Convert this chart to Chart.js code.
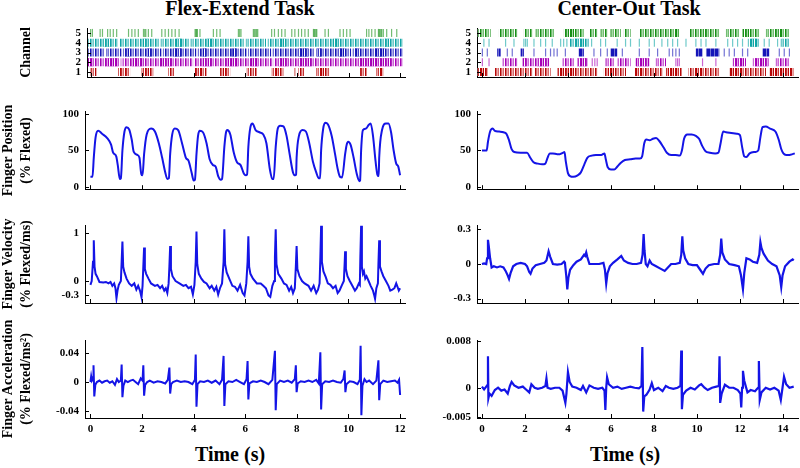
<!DOCTYPE html>
<html>
<head>
<meta charset="utf-8">
<script src="https://cdn.jsdelivr.net/npm/chart.js@4.4.0/dist/chart.umd.min.js"></script>
<style>
  body { margin: 0; background: #fff; width: 800px; height: 468px; position: relative; overflow: hidden; font-family: "Liberation Serif", "Times New Roman", serif; }
  canvas { position: absolute; }
  .lbl { position: absolute; font-weight: bold; font-size: 20px; line-height: 20px; white-space: nowrap; transform: translateX(-50%); color: #000; }
</style>
</head>
<body>
<div class="lbl" style="left:240px;top:-2px">Flex-Extend Task</div>
<div class="lbl" style="left:629px;top:-2px">Center-Out Task</div>
<div class="lbl" style="left:230px;top:444px">Time (s)</div>
<div class="lbl" style="left:625px;top:444px">Time (s)</div>
<script>
// ---- data: tick values ----
const flexTimeTicks = [0, 2, 4, 6, 8, 10, 12];
const coTimeTicks = [0, 2, 4, 6, 8, 10, 12, 14];
const channelTicks = [1, 2, 3, 4, 5];
const positionTicks = [0, 50, 100];
const flexVelocityTicks = [-0.3, 0, 1];
const coVelocityTicks = [-0.3, 0, 0.3];
const flexAccelTicks = [-0.04, 0, 0.04];
const coAccelTicks = [-0.005, 0, 0.008];

// ---- raster, Flex-Extend (times in s) ----
const flexCh5Spikes = [0.0,0.07,0.37,0.46,0.66,0.76,0.88,1.01,1.47,1.6,1.72,1.85,2.05,2.1,2.14,2.24,2.37,2.76,2.89,3.02,3.15,3.28,3.43,4.05,4.08,4.11,4.14,4.24,4.76,4.89,5.02,5.73,5.78,5.83,6.31,6.35,6.4,6.44,6.48,7.02,7.13,7.28,7.41,7.54,7.8,7.92,8.06,8.18,8.31,8.44,8.64,8.67,8.7,8.74,8.77,9.09,9.22,9.67,9.8,9.93,10.06,10.7,10.79,10.9,11.03,11.16,11.19,11.22,11.26,11.29,11.35,11.48,11.67,11.87];
const flexCh4Bursts = [[-0.1,1.05],[1.12,2.66],[2.72,3.83],[3.88,5.97],[6.02,6.8],[6.86,12.1]];
const flexCh4Dense = [[0.5,0.8],[2.0,2.25],[3.3,3.55],[4.5,4.75],[7.3,7.55],[9.4,9.65],[11.4,11.6]];
const flexCh3Bursts = [[-0.1,0.55],[0.6,1.2],[1.25,2.75],[2.8,4.1],[4.15,5.5],[5.55,6.05],[6.1,7.0],[7.05,8.7],[8.75,10.1],[10.15,12.1]];
const flexCh3Dense = [[1.34,1.53],[2.18,2.37],[3.21,3.53],[4.31,4.5],[5.47,5.66],[8.06,8.44],[8.77,8.96],[9.61,9.86],[10.25,10.44],[11.03,11.41]];
const flexCh2Bursts = [[-0.1,1.15],[1.2,3.95],[4.0,7.05],[7.1,12.1]];
const flexCh2Dense = [[-0.1,0.1],[0.56,1.08],[1.6,2.05],[2.69,3.15],[4.31,4.7],[5.21,5.73],[6.2,6.5],[7.28,7.67],[8.06,8.57],[10.38,11.67]];
const flexCh1Bursts = [[0,0.23],[1.07,1.53],[1.98,2.43],[3.01,3.27],[4.02,4.5],[5.02,5.41],[6.05,6.44],[7.02,7.47],[8.05,8.31],[8.74,9.28],[10.45,10.71],[11.09,11.35]];
const flexCh1Dense = [[1.3,1.45],[2.05,2.3],[4.1,4.35],[5.1,5.3],[7.1,7.35],[8.85,9.1],[11.15,11.3]];
const flexCh1Spikes = [0.05,0.15,1.1,1.2,1.5,2.0,2.4,3.05,3.2,4.45,5.38,6.1,6.3,6.4,7.45,7.92,8.1,8.25,9.25,10.5,10.65,11.1,11.3];

// ---- raster, Center-Out ----
const coCh5Bursts = [[-0.2,0.4],[0.79,1.64],[1.95,2.34],[2.5,3.35],[3.81,4.74],[4.98,5.36],[5.52,5.83],[5.98,6.45],[6.6,6.91],[7.32,9.18],[9.64,11.04],[11.35,11.97],[12.12,12.9],[13.21,14.3]];
const coCh5Dense = [[3.88,4.28],[9.0,9.15],[10.3,10.5],[12.1,12.45],[13.7,14.0]];
const coCh4Spikes = [0.09,0.33,1.1,1.49,1.95,2.03,2.11,2.42,2.73,2.96,3.27,3.66,3.8,3.95,5.1,5.52,5.75,6.29,6.68,6.91,7.32,7.78,8.02,8.37,8.64,8.87,9.1,9.49,9.95,10.19,10.42,10.88,11.43,11.66,11.89,12.12,13.13,13.36,13.75,13.99,14.22];
const coCh4Bursts = [[4.05,4.98],[12.36,12.9],[13.9,14.3]];
const coCh4Dense = [[4.3,4.75],[12.5,12.8]];
const coCh3Spikes = [0.02,0.25,1.18,1.41,2.42,2.96,3.19,3.35,3.5,3.88,5.21,5.52,5.83,6.53,7.32,7.78,8.17,8.71,8.87,9.02,9.18,11.27,11.5,11.74,12.12,12.36,13.83,14.06,14.3];
const coCh3Dense = [[0.71,0.87],[1.8,1.95],[4.5,4.74],[5.98,6.29],[9.95,10.26],[10.42,11.04],[13.05,13.36]];
const coCh2Spikes = [0.02,0.33,5.13,5.25,5.36,9.02,9.1,9.18,10.26,10.88];
const coCh2Bursts = [[0.94,1.64],[1.88,3.12],[3.73,4.28],[4.43,4.9],[5.75,6.14],[6.29,6.91],[7.16,7.78],[8.09,8.56],[11.66,12.28],[12.59,13.36],[13.67,14.29]];
const coCh2Dense = [[1.88,2.11],[2.57,3.12],[4.43,4.9],[7.16,7.78],[11.7,12.2],[12.7,13.3]];
const coCh1Bursts = [[-0.2,0.25],[0.56,2.34],[2.42,3.19],[3.5,5.36],[5.67,6.7],[7.1,8.4],[8.56,9.3],[9.6,11.04],[11.5,13.21],[13.36,14.5]];
const coCh1Dense = [[-0.2,0.25],[3.5,4.28],[5.83,6.14],[7.16,7.47],[8.56,9.18],[9.95,10.26],[11.5,12.12],[13.36,14.45]];

// ---- finger traces [time s, value] ----
const flexPosition = [[0,14],[0.08,14],[0.13,40],[0.2,68],[0.3,77],[0.45,73],[0.65,67],[0.8,58],[0.88,47],[1.0,42],[1.06,30],[1.14,11],[1.18,12],
  [1.24,50],[1.32,76],[1.4,82],[1.5,79],[1.6,65],[1.68,48],[1.82,44],[1.9,40],[1.97,18],[2.02,16],
  [2.08,45],[2.18,72],[2.35,80],[2.5,76],[2.65,60],[2.78,40],[2.9,20],[2.98,11],[3.04,12],
  [3.09,45],[3.17,72],[3.27,80],[3.4,78],[3.55,60],[3.7,40],[3.8,36],[3.92,20],[4.0,9],[4.05,10],
  [4.11,45],[4.17,70],[4.24,77],[4.36,75],[4.5,60],[4.62,38],[4.75,30],[4.85,28],[4.95,15],[5.05,10],[5.1,11],
  [5.19,55],[5.25,74],[5.3,78],[5.42,72],[5.55,48],[5.68,34],[5.82,30],[5.95,18],[6.02,16],[6.07,17],
  [6.12,55],[6.2,82],[6.28,87],[6.4,78],[6.55,75],[6.7,72],[6.82,60],[6.95,25],[7.05,11],[7.1,11],
  [7.18,55],[7.26,80],[7.35,84],[7.48,83],[7.6,70],[7.72,45],[7.85,20],[7.93,16],[7.97,17],
  [7.99,40],[8.08,70],[8.22,78],[8.35,76],[8.48,60],[8.62,35],[8.75,20],[8.85,12],[8.9,12],
  [8.94,50],[9.02,80],[9.1,88],[9.2,86],[9.35,70],[9.48,45],[9.58,25],[9.67,14],[9.75,13],
  [9.87,45],[9.93,58],[9.99,62],[10.08,58],[10.2,40],[10.32,18],[10.42,8],[10.45,9],
  [10.49,50],[10.56,78],[10.68,80],[10.78,85],[10.86,87],[10.95,70],[11.05,35],[11.12,17],[11.17,15],
  [11.19,40],[11.3,78],[11.45,87],[11.55,87],[11.65,75],[11.75,50],[11.85,32],[11.93,28],[12.0,16]];
const flexVelocity = [[0,-0.08],[0.05,0.0],[0.1,0.4],[0.13,0.85],[0.16,0.3],[0.2,0.15],[0.25,0.1],[0.35,-0.02],[0.5,-0.03],[0.6,-0.02],[0.7,-0.05],[0.78,-0.02],[0.85,-0.1],[0.92,-0.05],[0.97,-0.15],[1.01,-0.36],[1.05,-0.2],[1.1,-0.08],[1.18,0.0],
  [1.21,0.4],[1.24,0.82],[1.27,0.3],[1.32,0.18],[1.4,0.05],[1.5,-0.05],[1.6,-0.1],[1.7,-0.05],[1.78,-0.18],[1.85,-0.1],[1.92,-0.2],[1.98,-0.34],[2.02,-0.1],
  [2.05,0.3],[2.08,0.7],[2.11,0.25],[2.16,0.15],[2.25,0.05],[2.35,-0.05],[2.5,-0.1],[2.6,-0.08],[2.7,-0.15],[2.78,-0.1],[2.86,-0.2],[2.92,-0.15],[2.98,-0.25],[3.03,-0.05],
  [3.06,0.3],[3.09,0.73],[3.12,0.25],[3.18,0.1],[3.3,0.0],[3.45,-0.05],[3.6,-0.1],[3.7,-0.08],[3.8,-0.15],[3.9,-0.12],[3.97,-0.28],[4.03,-0.08],
  [4.08,0.4],[4.11,1.03],[4.14,0.35],[4.2,0.15],[4.3,0.05],[4.4,-0.02],[4.5,-0.05],[4.62,-0.15],[4.7,-0.1],[4.8,-0.2],[4.88,-0.12],[4.95,-0.28],[5.02,-0.15],[5.1,-0.05],
  [5.16,0.4],[5.19,1.08],[5.22,0.35],[5.28,0.18],[5.38,0.05],[5.5,-0.1],[5.6,-0.12],[5.7,-0.2],[5.8,-0.08],[5.9,-0.25],[5.97,-0.3],[6.04,-0.05],
  [6.09,0.4],[6.12,0.93],[6.15,0.3],[6.2,0.15],[6.3,0.05],[6.45,-0.05],[6.6,-0.05],[6.7,-0.1],[6.8,-0.15],[6.9,-0.3],[6.97,-0.33],[7.05,-0.1],[7.12,0.0],
  [7.15,0.5],[7.18,1.08],[7.21,0.35],[7.28,0.15],[7.4,0.05],[7.5,-0.05],[7.6,-0.08],[7.7,-0.2],[7.78,-0.12],[7.85,-0.25],[7.92,-0.15],
  [7.96,0.3],[7.99,0.73],[8.02,0.25],[8.1,0.1],[8.2,0.0],[8.3,-0.05],[8.45,-0.1],[8.55,-0.2],[8.65,-0.1],[8.75,-0.25],[8.82,-0.18],[8.88,-0.05],
  [8.91,0.5],[8.94,1.15],[8.97,0.4],[9.03,0.2],[9.12,0.08],[9.2,-0.05],[9.3,-0.08],[9.4,-0.15],[9.5,-0.1],[9.58,-0.25],[9.65,-0.2],[9.75,-0.08],[9.82,0.0],
  [9.85,0.35],[9.87,0.62],[9.9,0.25],[9.96,0.1],[10.05,0.0],[10.15,-0.1],[10.25,-0.2],[10.32,-0.15],[10.4,-0.05],[10.44,-0.08],
  [10.46,0.5],[10.49,1.15],[10.52,0.3],[10.56,0.15],[10.6,0.2],[10.65,0.05],[10.7,0.1],[10.78,0.0],[10.86,-0.1],[10.95,-0.2],[11.0,-0.3],[11.03,-0.37],[11.08,-0.15],[11.14,-0.05],
  [11.16,0.35],[11.19,0.85],[11.22,0.3],[11.28,0.2],[11.35,0.1],[11.45,0.0],[11.55,-0.1],[11.62,-0.2],[11.7,-0.18],[11.78,-0.15],[11.85,-0.05],[11.9,-0.12],[11.95,-0.2],[12.0,-0.15]];
const flexAccel = [[0,0.0],[0.03,0.008],[0.06,0.002],[0.1,0.004],[0.12,0.023],[0.15,-0.02],[0.19,-0.004],[0.25,0.0],[0.35,0.002],[0.45,-0.001],[0.55,0.001],[0.65,0.002],[0.75,-0.001],[0.85,0.001],[0.95,-0.004],[1.03,0.004],[1.1,0.0],[1.18,0.002],
  [1.21,0.024],[1.24,-0.021],[1.28,-0.005],[1.35,0.002],[1.45,0.0],[1.55,0.002],[1.65,0.003],[1.75,0.0],[1.85,-0.003],[1.95,0.005],[2.02,0.002],
  [2.05,0.023],[2.08,-0.019],[2.12,-0.004],[2.2,0.0],[2.3,0.002],[2.45,-0.001],[2.6,0.001],[2.75,0.0],[2.9,-0.002],[3.0,0.003],
  [3.06,0.02],[3.09,-0.016],[3.13,-0.003],[3.2,0.0],[3.35,0.002],[3.5,0.0],[3.65,0.001],[3.8,0.0],[3.95,-0.003],[4.05,0.003],
  [4.08,0.038],[4.11,-0.034],[4.15,-0.003],[4.25,0.001],[4.4,0.0],[4.55,0.002],[4.7,-0.001],[4.85,0.002],[5.0,-0.003],[5.1,0.003],
  [5.16,0.036],[5.19,-0.033],[5.23,-0.003],[5.35,0.001],[5.5,0.0],[5.65,0.003],[5.8,0.0],[5.95,-0.003],[6.05,0.004],
  [6.09,0.029],[6.12,-0.024],[6.16,-0.002],[6.3,0.001],[6.45,0.0],[6.6,0.002],[6.75,0.0],[6.9,-0.003],[7.05,0.003],
  [7.15,0.043],[7.18,-0.039],[7.22,-0.003],[7.35,0.002],[7.5,0.0],[7.65,0.002],[7.8,-0.001],[7.92,0.004],
  [7.96,0.023],[7.99,-0.014],[8.03,-0.002],[8.15,0.001],[8.3,0.0],[8.45,0.002],[8.6,0.0],[8.75,0.003],[8.85,-0.002],
  [8.91,0.041],[8.94,-0.038],[8.98,-0.003],[9.1,0.001],[9.25,0.0],[9.4,0.002],[9.55,0.0],[9.7,-0.001],[9.8,0.004],
  [9.85,0.016],[9.88,-0.014],[9.92,-0.003],[10.05,0.001],[10.2,0.0],[10.35,-0.003],[10.44,0.003],
  [10.47,0.05],[10.5,-0.046],[10.54,-0.005],[10.62,0.004],[10.7,0.0],[10.8,0.002],[10.95,-0.003],[11.08,0.002],
  [11.16,0.03],[11.19,-0.025],[11.23,-0.003],[11.35,0.002],[11.5,0.0],[11.65,0.001],[11.8,0.002],[11.9,-0.001],[11.96,0.003],[12.0,-0.018]];

const coPosition = [[0,50],[0.22,50],[0.28,62],[0.38,76],[0.5,80],[0.6,77],[0.8,76],[1.0,75],[1.13,73],[1.25,65],[1.38,52],[1.5,48],[1.8,47],[2.1,47],[2.25,40],[2.4,34],[2.6,32],[2.8,31],[2.95,32],[3.05,40],[3.15,46],[3.3,46],[3.5,45],[3.62,45],[3.78,47],[3.84,48],[3.9,35],[4.0,19],[4.1,15],[4.25,14],[4.45,16],[4.6,20],[4.75,30],[4.9,40],[5.1,43],[5.3,44],[5.55,44],[5.7,46],[5.76,38],[5.85,27],[6.0,24],[6.15,24],[6.3,28],[6.45,33],[6.65,37],[6.9,38],[7.15,39],[7.35,39],[7.45,42],[7.55,60],[7.65,65],[7.8,64],[7.95,66],[8.1,67],[8.25,63],[8.45,54],[8.6,47],[8.8,44],[9.0,44],[9.2,43],[9.3,50],[9.4,66],[9.55,72],[9.75,72],[9.95,70],[10.1,66],[10.25,56],[10.4,49],[10.6,47],[10.85,46],[11.0,47],[11.1,60],[11.22,76],[11.35,75],[11.6,74],[11.85,73],[12.0,71],[12.1,55],[12.2,42],[12.3,41],[12.45,46],[12.7,48],[12.85,50],[12.95,68],[13.05,82],[13.2,83],[13.4,80],[13.65,76],[13.8,65],[13.92,52],[14.02,46],[14.15,44],[14.3,44],[14.45,45],[14.55,46]];
const coVelocity = [[0,0.0],[0.1,0.005],[0.2,0.0],[0.24,0.05],[0.28,0.21],[0.32,0.15],[0.38,0.05],[0.45,-0.03],[0.55,-0.02],[0.7,-0.03],[0.85,-0.02],[1.0,-0.03],[1.1,-0.06],[1.2,-0.1],[1.26,-0.13],[1.33,-0.08],[1.45,-0.02],[1.6,0.0],[1.8,0.01],[2.0,0.0],[2.1,-0.02],[2.2,-0.07],[2.26,-0.085],[2.35,-0.04],[2.5,-0.01],[2.7,0.0],[2.9,0.01],[3.0,0.03],[3.1,0.11],[3.18,0.06],[3.3,0.0],[3.5,-0.005],[3.7,0.0],[3.82,0.02],[3.86,0.01],[3.92,-0.1],[3.97,-0.22],[4.02,-0.12],[4.1,-0.05],[4.25,-0.01],[4.4,0.02],[4.6,0.04],[4.75,0.08],[4.8,0.07],[4.85,0.1],[4.9,0.06],[5.0,0.0],[5.2,0.0],[5.45,0.0],[5.65,0.01],[5.72,-0.05],[5.78,-0.17],[5.84,-0.08],[5.95,-0.02],[6.1,0.01],[6.3,0.04],[6.48,0.07],[6.6,0.03],[6.8,0.01],[7.0,0.0],[7.2,0.0],[7.4,0.01],[7.47,0.08],[7.52,0.26],[7.56,0.12],[7.62,0.0],[7.7,-0.02],[7.8,0.03],[7.9,0.0],[8.1,-0.02],[8.3,-0.04],[8.5,-0.06],[8.65,-0.03],[8.8,0.0],[9.0,0.0],[9.2,0.01],[9.27,0.08],[9.32,0.24],[9.36,0.12],[9.45,0.05],[9.6,0.0],[9.8,-0.01],[10.0,-0.01],[10.15,-0.05],[10.28,-0.085],[10.4,-0.04],[10.55,-0.01],[10.8,0.0],[11.0,0.0],[11.08,0.08],[11.13,0.22],[11.18,0.1],[11.3,0.04],[11.5,0.0],[11.75,-0.01],[11.95,-0.02],[12.05,-0.1],[12.14,-0.22],[12.2,-0.08],[12.3,0.05],[12.45,0.04],[12.6,0.02],[12.8,0.01],[12.9,0.08],[12.95,0.19],[13.0,0.14],[13.1,0.09],[13.3,0.03],[13.5,0.0],[13.7,-0.02],[13.85,-0.1],[13.92,-0.2],[13.98,-0.1],[14.1,-0.02],[14.3,0.02],[14.45,0.04],[14.5,0.03]];
const coAccel = [[0,0.0002],[0.1,-0.0003],[0.2,0.0002],[0.26,0.0005],[0.28,0.0054],[0.3,-0.0018],[0.35,-0.001],[0.45,-0.0014],[0.6,-0.0004],[0.75,0.0],[0.9,-0.0005],[1.05,-0.0003],[1.2,-0.001],[1.3,0.0003],[1.38,0.001],[1.5,0.0004],[1.7,0.0],[1.9,0.0002],[2.05,-0.0003],[2.2,-0.0008],[2.3,0.0006],[2.45,0.0],[2.6,-0.0002],[2.8,0.0],[2.95,0.0003],[3.0,0.0016],[3.05,0.0],[3.2,-0.0002],[3.4,0.0],[3.6,0.0],[3.75,-0.0005],[3.88,-0.0026],[3.93,-0.001],[4.0,0.0027],[4.08,0.001],[4.2,0.0002],[4.4,0.0],[4.6,-0.0004],[4.7,0.0003],[4.85,-0.0008],[5.0,0.0004],[5.2,0.0],[5.4,-0.0002],[5.6,0.0],[5.7,-0.0005],[5.74,-0.0038],[5.78,0.0],[5.82,0.0018],[5.9,0.0006],[6.1,0.0],[6.3,0.0002],[6.5,-0.0002],[6.7,0.0],[6.9,0.0002],[7.1,0.0],[7.3,-0.0001],[7.42,0.0003],[7.46,0.007],[7.5,-0.0041],[7.55,-0.0015],[7.65,-0.0012],[7.8,-0.0003],[7.9,0.0008],[8.0,-0.0004],[8.2,0.0],[8.4,-0.0006],[8.55,0.0003],[8.7,0.0],[8.9,-0.0002],[9.1,0.0],[9.23,0.0003],[9.27,0.0064],[9.3,-0.0037],[9.35,-0.0012],[9.5,-0.0005],[9.7,0.0],[9.9,-0.0003],[10.1,0.0004],[10.2,0.0006],[10.35,0.0],[10.5,-0.0004],[10.7,0.0],[10.9,0.0002],[11.02,0.0003],[11.05,0.0054],[11.08,-0.0026],[11.15,-0.001],[11.3,0.0005],[11.5,0.0],[11.7,0.0],[11.9,-0.0004],[12.02,-0.001],[12.06,-0.0034],[12.1,0.0],[12.14,0.0029],[12.2,0.0012],[12.35,-0.0008],[12.5,-0.0004],[12.7,-0.0006],[12.84,0.0],[12.88,0.0046],[12.92,-0.0021],[13.0,-0.0008],[13.2,0.0],[13.4,-0.0003],[13.6,0.0],[13.8,-0.0005],[13.9,-0.0021],[13.98,0.0],[14.05,0.0019],[14.15,0.0006],[14.3,0.0],[14.5,0.0002]];

// ---- styling ----
Chart.defaults.font.family = '"Liberation Serif", "Times New Roman", serif';
Chart.defaults.color = '#000';
const tickFont = { size: 11, weight: 'bold' };
const yTitleFont = { size: 14, weight: 'bold', lineHeight: 1.3 };
const traceColor = '#1414e6';
const channelColors = {
  5: ['#168f16', '#a9dca9', 'rgba(22,143,22,0.6)'],
  4: ['#10a6a6', '#9fdcdc', 'rgba(16,166,166,0.6)'],
  3: ['#1515b8', '#aaaaea', 'rgba(21,21,184,0.6)'],
  2: ['#a600b6', '#e4a4ec', 'rgba(166,0,182,0.6)'],
  1: ['#b80808', '#eeaaaa', 'rgba(184,8,8,0.6)']
};

// small tick marks pointing into the plot, like the original
const inwardTicks = {
  id: 'inwardTicks',
  afterDraw(chart) {
    const { ctx, chartArea: a, scales: { x, y } } = chart;
    ctx.save();
    ctx.strokeStyle = '#000';
    ctx.lineWidth = 1;
    ctx.beginPath();
    x.ticks.forEach(t => {
      const px = Math.round(x.getPixelForValue(t.value)) + 0.5;
      ctx.moveTo(px, a.bottom); ctx.lineTo(px, a.bottom - 4);
    });
    y.ticks.forEach(t => {
      const py = Math.round(y.getPixelForValue(t.value)) + 0.5;
      ctx.moveTo(a.left, py); ctx.lineTo(a.left + 4, py);
    });
    ctx.stroke();
    ctx.restore();
  }
};

function stripes(ctx, cols) {
  const c = document.createElement('canvas');
  c.width = cols.length; c.height = 1;
  const g = c.getContext('2d');
  cols.forEach((col, i) => { g.fillStyle = col; g.fillRect(i, 0, 1, 1); });
  return ctx.createPattern(c, 'repeat');
}

function pairs(arr) { return arr.map(p => ({ x: p[0], y: p[1] })); }

function burstData(ranges, ch) {
  const out = [];
  ranges.forEach(r => { out.push({ x: r[0], y: ch }, { x: r[1], y: ch }, { x: r[1], y: null }); });
  return out;
}

// one raster row: bursts (light striped), dense parts (dark striped), single spikes
function channelSets(ctx, ch, bursts, dense, spikes) {
  const [dark, light, mid] = channelColors[ch];
  const sets = [];
  if (bursts.length) sets.push({ data: burstData(bursts, ch), borderColor: stripes(ctx, [dark, mid, light, mid, '#ffffff']), borderWidth: 8, borderCapStyle: 'butt', pointRadius: 0, tension: 0, spanGaps: false });
  if (dense.length) sets.push({ data: burstData(dense, ch), borderColor: stripes(ctx, [dark, dark, mid, dark]), borderWidth: 8, borderCapStyle: 'butt', pointRadius: 0, tension: 0, spanGaps: false });
  if (spikes.length) sets.push({ data: spikes.map(t => ({ x: t, y: ch })), showLine: false, pointStyle: 'line', rotation: 90, pointRadius: 4, pointBorderWidth: 1.2, pointBorderColor: mid, pointBackgroundColor: mid });
  return sets;
}

function panel(p) {
  const cv = document.createElement('canvas');
  cv.width = p.box.w; cv.height = p.box.h;
  cv.style.left = p.box.x + 'px';
  cv.style.top = p.box.y + 'px';
  document.body.appendChild(cv);
  const ctx = cv.getContext('2d');
  const yWidth = p.area.left - p.box.x;
  const xHeight = p.box.y + p.box.h - p.area.bottom;
  return new Chart(ctx, {
    type: 'line',
    data: { datasets: p.datasets(ctx) },
    options: {
      responsive: false,
      animation: false,
      events: [],
      layout: { autoPadding: false, padding: { left: 0, top: p.area.top - p.box.y, right: p.box.x + p.box.w - p.area.right, bottom: 0 } },
      plugins: { legend: { display: false }, tooltip: { enabled: false } },
      scales: {
        x: {
          type: 'linear', min: p.xMin, max: p.xMax,
          afterBuildTicks: s => { s.ticks = p.xTicks.map(v => ({ value: v })); },
          afterFit: s => { s.height = xHeight; s.paddingLeft = 0; s.paddingRight = 0; },
          grid: { display: false, drawTicks: false },
          border: { display: true, color: '#000', width: 1 },
          ticks: { display: p.xLabels, autoSkip: false, maxRotation: 0, padding: 5, font: tickFont, color: '#000', callback: v => String(v) }
        },
        y: {
          type: 'linear', min: p.yMin, max: p.yMax,
          afterBuildTicks: s => { s.ticks = p.yTicks.map(v => ({ value: v })); },
          afterFit: s => { s.width = yWidth; s.paddingTop = 0; s.paddingBottom = 0; },
          grid: { display: false, drawTicks: false },
          border: { display: true, color: '#000', width: 1 },
          ticks: { autoSkip: false, padding: 6, font: tickFont, color: '#000', callback: v => String(v) },
          title: p.yTitle ? { display: true, text: p.yTitle, font: yTitleFont, color: '#000', padding: { top: p.titlePad, bottom: 0 } } : { display: false }
        }
      }
    },
    plugins: [inwardTicks]
  });
}

function trace(series, width) {
  return ctx => [{ data: pairs(series), borderColor: traceColor, borderWidth: width, pointRadius: 0, tension: 0 }];
}
function smoothTrace(series) {
  return ctx => [{ data: pairs(series), borderColor: traceColor, borderWidth: 2, pointRadius: 0, cubicInterpolationMode: 'monotone' }];
}

const leftCol = { x: 0, w: 410, left: 85, right: 405, xMin: -0.21, xMax: 12.19, xTicks: flexTimeTicks };
const rightCol = { x: 400, w: 400, left: 477, right: 798, xMin: -0.23, xMax: 14.7, xTicks: coTimeTicks };

// row 1: rasters
panel({
  box: { x: 0, y: 18, w: 410, h: 67 }, area: { left: 87, right: 405, top: 28, bottom: 77 },
  xMin: -0.14, xMax: 12.19, xTicks: flexTimeTicks, xLabels: false,
  yMin: 0.5, yMax: 5.5, yTicks: channelTicks, yTitle: 'Channel', titlePad: 17,
  datasets: ctx => [].concat(
    channelSets(ctx, 5, [], [], flexCh5Spikes),
    channelSets(ctx, 4, flexCh4Bursts, flexCh4Dense, []),
    channelSets(ctx, 3, flexCh3Bursts, flexCh3Dense, []),
    channelSets(ctx, 2, flexCh2Bursts, flexCh2Dense, []),
    channelSets(ctx, 1, flexCh1Bursts, flexCh1Dense, flexCh1Spikes))
});
panel({
  box: { x: 400, y: 18, w: 400, h: 67 }, area: { left: 477, right: 798, top: 28, bottom: 77 },
  xMin: rightCol.xMin, xMax: rightCol.xMax, xTicks: coTimeTicks, xLabels: false,
  yMin: 0.5, yMax: 5.5, yTicks: channelTicks,
  datasets: ctx => [].concat(
    channelSets(ctx, 5, coCh5Bursts, coCh5Dense, []),
    channelSets(ctx, 4, coCh4Bursts, coCh4Dense, coCh4Spikes),
    channelSets(ctx, 3, [], coCh3Dense, coCh3Spikes),
    channelSets(ctx, 2, coCh2Bursts, coCh2Dense, coCh2Spikes),
    channelSets(ctx, 1, coCh1Bursts, coCh1Dense, []))
});

// rows 2-4: finger traces
const rows = [
  { y: 95, h: 105, top: 111.8, bottom: 189.2 },
  { y: 205, h: 113, top: 225, bottom: 303 },
  { y: 315, h: 130, top: 340, bottom: 418 }
];
const leftPanels = [
  { yMin: -3, yMax: 103, yTicks: positionTicks, yTitle: ['Finger Position', '(% Flexed)'], datasets: smoothTrace(flexPosition) },
  { yMin: -0.458, yMax: 1.167, yTicks: flexVelocityTicks, yTitle: ['Finger Velocity', '(% Flexed/ms)'], datasets: trace(flexVelocity, 2) },
  { yMin: -0.0497, yMax: 0.058, yTicks: flexAccelTicks, yTitle: ['Finger Acceleration', '(% Flexed/ms\u00b2)'], datasets: trace(flexAccel, 2), xLabels: true }
];
const rightPanels = [
  { yMin: -3, yMax: 103, yTicks: positionTicks, datasets: smoothTrace(coPosition) },
  { yMin: -0.339, yMax: 0.339, yTicks: coVelocityTicks, datasets: trace(coVelocity, 2.2) },
  { yMin: -0.0052, yMax: 0.0082, yTicks: coAccelTicks, datasets: trace(coAccel, 2.2), xLabels: true }
];
[[leftCol, leftPanels], [rightCol, rightPanels]].forEach(([col, list]) => {
  list.forEach((pp, i) => {
    const r = rows[i];
    panel(Object.assign({
      box: { x: col.x, y: r.y, w: col.w, h: r.h },
      area: { left: col.left, right: col.right, top: r.top, bottom: r.bottom },
      xMin: col.xMin, xMax: col.xMax, xTicks: col.xTicks, xLabels: false, titlePad: -1
    }, pp));
  });
});
</script>
</body>
</html>
